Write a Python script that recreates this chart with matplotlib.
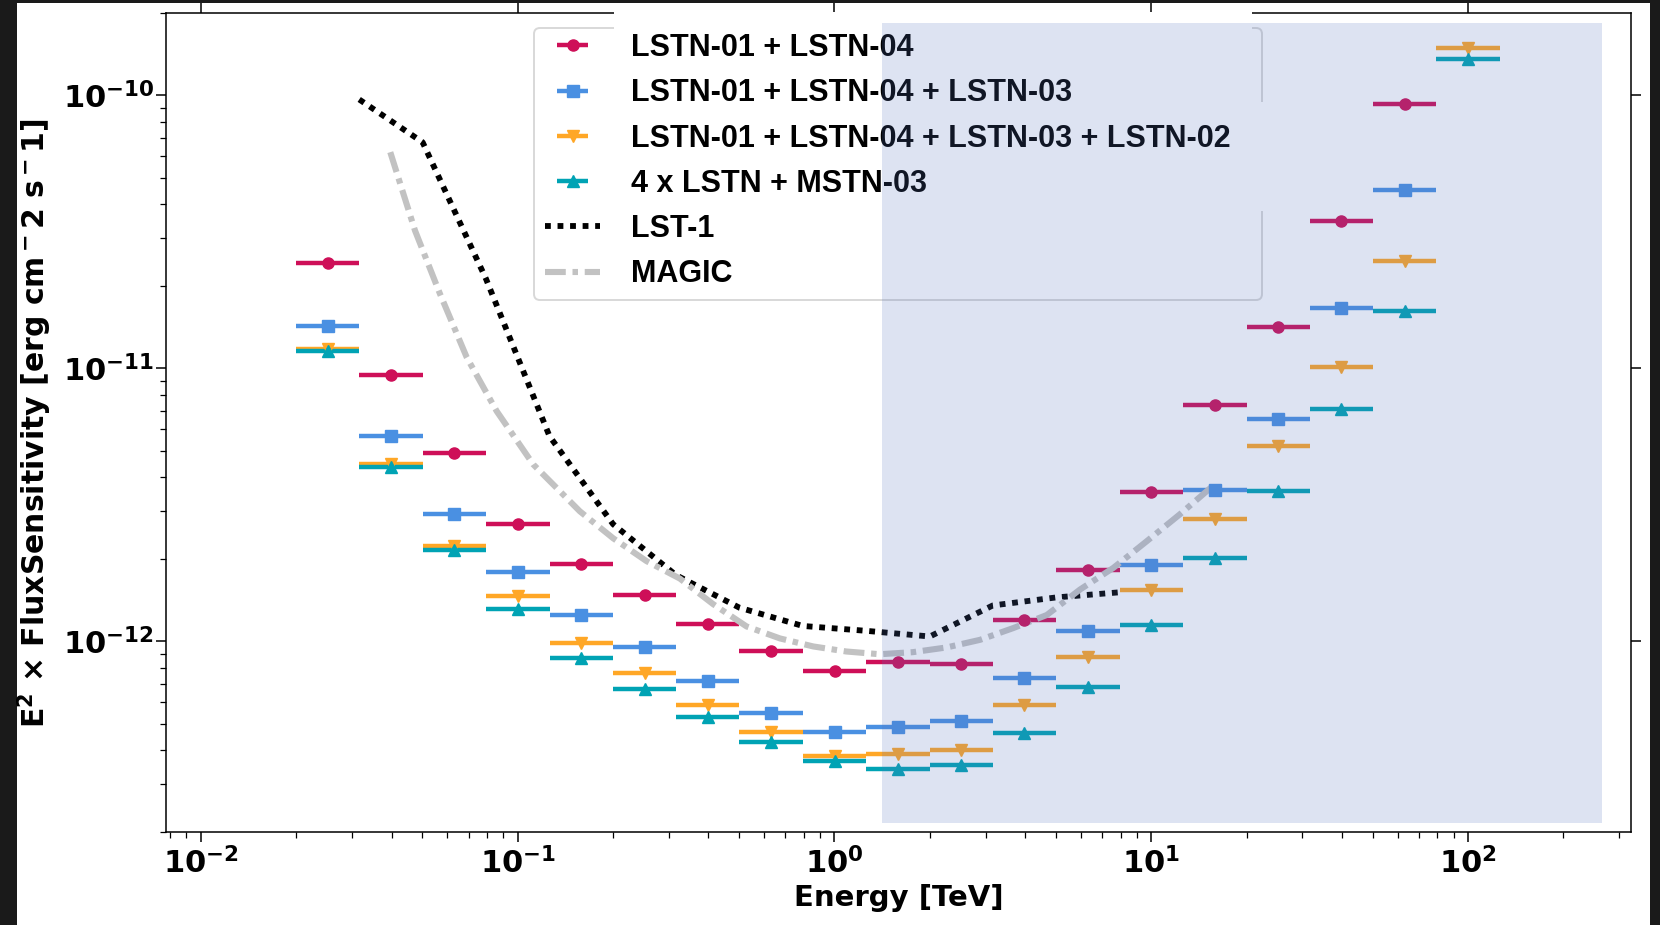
import numpy as np
import matplotlib
matplotlib.use("Agg")
import matplotlib.pyplot as plt
from matplotlib.patches import Rectangle, FancyBboxPatch
from matplotlib.transforms import IdentityTransform

# ---------------------------------------------------------------------------
# Data
# ---------------------------------------------------------------------------
# Reconstructed-energy bin edges [TeV], five bins per decade
energy_edges = [0.0200, 0.0316, 0.0501, 0.0794, 0.126, 0.200, 0.316, 0.501,
                0.794, 1.26, 2.00, 3.16, 5.01, 7.94, 12.6, 20.0, 31.6, 50.1,
                79.4, 126.0]

# E^2 x flux sensitivity [erg cm^-2 s^-1] in each energy bin
sens_lstn_01_04 = [2.44e-11, 9.49e-12, 4.90e-12, 2.69e-12, 1.93e-12, 1.475e-12,
                   1.157e-12, 9.19e-13, 7.78e-13, 8.39e-13, 8.30e-13, 1.194e-12,
                   1.827e-12, 3.54e-12, 7.33e-12, 1.42e-11, 3.48e-11, 9.27e-11]
sens_lstn_01_04_03 = [1.432e-11, 5.64e-12, 2.94e-12, 1.80e-12, 1.249e-12, 9.56e-13,
                      7.19e-13, 5.46e-13, 4.65e-13, 4.88e-13, 5.12e-13, 7.38e-13,
                      1.088e-12, 1.905e-12, 3.60e-12, 6.51e-12, 1.67e-11, 4.52e-11]
sens_lstn_01_04_03_02 = [1.18e-11, 4.47e-12, 2.23e-12, 1.466e-12, 9.86e-13, 7.69e-13,
                         5.87e-13, 4.66e-13, 3.82e-13, 3.87e-13, 4.02e-13, 5.86e-13,
                         8.79e-13, 1.543e-12, 2.82e-12, 5.18e-12, 1.015e-11, 2.466e-11,
                         1.49e-10]
sens_4lstn_mstn_03 = [1.159e-11, 4.34e-12, 2.16e-12, 1.31e-12, 8.73e-13, 6.72e-13,
                      5.29e-13, 4.28e-13, 3.66e-13, 3.40e-13, 3.52e-13, 4.61e-13,
                      6.79e-13, 1.151e-12, 2.02e-12, 3.55e-12, 7.08e-12, 1.62e-11,
                      1.365e-10]

# Reference instruments
lst1_energy = [0.0316, 0.0501, 0.0794, 0.126, 0.200, 0.316, 0.501, 0.794,
               1.26, 2.00, 3.16, 5.01, 7.94]
lst1_sens = [9.67e-11, 6.74e-11, 2.13e-11, 5.65e-12, 2.69e-12, 1.75e-12,
             1.33e-12, 1.14e-12, 1.094e-12, 1.043e-12, 1.355e-12, 1.45e-12,
             1.514e-12]

magic_energy = [0.0396, 0.0474, 0.0568, 0.0690, 0.0858, 0.112, 0.157, 0.200,
                0.255, 0.325, 0.414, 0.528, 0.673, 0.857, 1.09, 1.39, 1.77,
                2.26, 2.88, 3.67, 4.68, 5.96, 7.59, 9.68, 12.3, 15.8]
magic_sens = [6.20e-11, 3.20e-11, 1.88e-11, 1.10e-11, 6.98e-12, 4.45e-12,
              3.00e-12, 2.39e-12, 1.97e-12, 1.70e-12, 1.37e-12, 1.135e-12,
              1.026e-12, 9.59e-13, 9.19e-13, 8.98e-13, 9.14e-13, 9.51e-13,
              1.014e-12, 1.12e-12, 1.25e-12, 1.55e-12, 1.86e-12, 2.33e-12,
              2.92e-12, 3.75e-12]

series_labels = ["LSTN-01 + LSTN-04",
                 "LSTN-01 + LSTN-04 + LSTN-03",
                 "LSTN-01 + LSTN-04 + LSTN-03 + LSTN-02",
                 "4 x LSTN + MSTN-03"]
ref_labels = ["LST-1", "MAGIC"]

# ---------------------------------------------------------------------------
# Style
# ---------------------------------------------------------------------------
plt.rcParams.update({
    "font.family": "DejaVu Sans",
    "font.weight": "bold",
    "axes.labelweight": "bold",
    "mathtext.fontset": "dejavusans",
    "mathtext.default": "bf",
})

W, H = 1660, 925
fig = plt.figure(figsize=(W / 100, H / 100), dpi=100, facecolor="#1a1a1a")


def px_rect(x0, y0, x1, y1, **kw):
    """Rectangle given in output pixels measured from the top-left corner."""
    return Rectangle((x0, H - y1), x1 - x0, y1 - y0,
                     transform=IdentityTransform(), **kw)


# slide background
fig.add_artist(px_rect(17, 3, 1650, 925, facecolor="white", lw=0, zorder=-10))

ax = fig.add_axes([165.7 / W, 1 - 832.3 / H, (1631 - 165.7) / W, (832.3 - 13.3) / H])
ax.set_xscale("log")
ax.set_yscale("log")
ax.set_xlim(7.74e-3, 327)
ax.set_ylim(2.0e-13, 2.0e-10)

edges = np.array(energy_edges)
lo, hi = edges[:-1], edges[1:]
centers = np.sqrt(lo * hi)

colors = ["#CE0F58", "#4A90E2", "#FFA726", "#00A3B4"]
markers = ["o", "s", "v", "^"]
all_sens = [sens_lstn_01_04, sens_lstn_01_04_03, sens_lstn_01_04_03_02, sens_4lstn_mstn_03]

handles = []
for sens, col, mk, lab in zip(all_sens, colors, markers, series_labels):
    n = len(sens)
    c = centers[:n]
    xerr = np.vstack([c - lo[:n], hi[:n] - c])
    eb = ax.errorbar(c, sens, xerr=xerr, fmt=mk, color=col, ms=8.0,
                     elinewidth=3.2, capsize=0, label=lab)
    handles.append(eb)

l1, = ax.plot(lst1_energy, lst1_sens, color="black", lw=4.2,
              dashes=(1.0, 1.15), label=ref_labels[0])
l2, = ax.plot(magic_energy, magic_sens, color="#C2C2C2", lw=4.4,
              dashes=(3.4, 1.1, 0.9, 1.1), label=ref_labels[1])
handles += [l1, l2]

ax.set_xlabel("Energy [TeV]", fontsize=21, labelpad=3)
ax.set_ylabel(r"E$^2$ $\times$ FluxSensitivity [erg cm$^-2$ s$^-1$]",
              fontsize=21.5, labelpad=6)

ax.tick_params(which="both", direction="out", labelsize=22)
ax.tick_params(axis="x", pad=3.5)
ax.tick_params(axis="y", pad=1.5)
ax.tick_params(which="major", length=7, width=1.1, top=True, right=True)
ax.tick_params(which="minor", length=4.4, width=0.9, top=False, right=False)
for s in ax.spines.values():
    s.set_linewidth(1.1)

# legend (frame drawn separately)
leg = ax.legend(handles=handles, labels=series_labels + ref_labels,
                loc="upper left", bbox_to_anchor=(534, H - 22),
                bbox_transform=IdentityTransform(), frameon=False,
                prop={"family": "Liberation Sans", "weight": "bold", "size": 22},
                handlelength=1.8, handletextpad=1.0, labelspacing=0.5,
                borderpad=0.36, borderaxespad=0)
leg.set_zorder(6)
frame = FancyBboxPatch((534, H - 300), 1262 - 534, 300 - 28,
                       boxstyle="round,pad=0,rounding_size=6",
                       transform=IdentityTransform(), facecolor="white",
                       edgecolor="#d4d4d4", lw=1.4, alpha=0.9, zorder=5.5)
ax.add_patch(frame)
frame.set_clip_on(False)

# white text-box covers and highlighted high-energy region
fig.add_artist(px_rect(614, 12, 1252, 30, facecolor="white", lw=0, zorder=5))
fig.add_artist(px_rect(1256, 102, 1268, 211, facecolor="white", lw=0, zorder=5))
fig.add_artist(px_rect(881.7, 22.7, 1602, 823, facecolor="#5573BE", alpha=0.2,
                       lw=0, zorder=8))

fig.savefig("out.png", dpi=100, facecolor=fig.get_facecolor())
